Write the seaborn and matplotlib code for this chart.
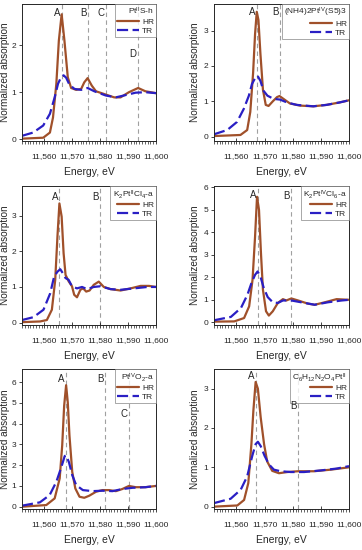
import matplotlib
matplotlib.use("Agg")
import matplotlib.pyplot as plt
import numpy as np
import pandas as pd
import seaborn as sns
from matplotlib.ticker import MultipleLocator, FuncFormatter

# ---- data (energy in eV, normalized absorption) ----
# panel 1: Pt(II)S-h
e1_hr = [11552, 11559.6, 11562, 11563.1, 11564.3, 11565.2, 11566.2, 11567.2, 11568.4,
         11569.6, 11571.4, 11573.2, 11574.3, 11575.5, 11577, 11578.5, 11582, 11585,
         11587.3, 11590.3, 11593.6, 11596.2, 11600]
hr1 = [0.01, 0.03, 0.14, 0.46, 1.18, 2.1, 2.66, 2.1, 1.32, 1.09, 1.05, 1.07, 1.21, 1.3,
       1.14, 1.02, 0.95, 0.89, 0.89, 1.0, 1.09, 1.02, 0.98]
e1_tr = [11552, 11556, 11559.6, 11562, 11563.7, 11564.9, 11566, 11566.9, 11567.8, 11569,
         11570.8, 11573.2, 11575.5, 11577.9, 11582, 11585.6, 11588.5, 11592.7, 11596.2, 11600]
tr1 = [0.07, 0.14, 0.29, 0.54, 0.89, 1.18, 1.32, 1.36, 1.31, 1.16, 1.07, 1.05, 1.09, 1.02,
       0.93, 0.89, 0.93, 0.99, 1.0, 0.98]

# panel 2: (NH4)2Pt(IV)(S5)3
e2_hr = [11552, 11561.4, 11563.8, 11564.9, 11565.9, 11566.6, 11567.2, 11567.8, 11568.5,
         11569.4, 11570.4, 11571.4, 11572.9, 11574.4, 11575.3, 11576.7, 11579, 11582.6,
         11587.3, 11592, 11596.7, 11600]
hr2 = [0.02, 0.05, 0.19, 0.7, 1.8, 2.9, 3.53, 3.3, 2.35, 1.33, 0.9, 0.87, 1.0, 1.12, 1.15,
       1.07, 0.94, 0.88, 0.86, 0.9, 0.97, 1.03]
e2_tr = [11552, 11556.7, 11560.2, 11562.6, 11564.4, 11565.5, 11566.7, 11567.5, 11568.5,
         11569.6, 11571, 11573.2, 11575.5, 11577.9, 11581.4, 11587.3, 11592, 11596.7, 11600]
tr2 = [0.07, 0.19, 0.42, 0.79, 1.16, 1.49, 1.67, 1.72, 1.58, 1.3, 1.16, 1.07, 1.05, 0.97,
       0.9, 0.86, 0.9, 0.97, 1.03]

# panel 3: K2Pt(II)Cl4-a
e3_hr = [11552, 11558.5, 11560.9, 11562.7, 11563.9, 11564.7, 11565.4, 11566.2, 11566.9,
         11567.6, 11568.7, 11569.9, 11570.7, 11571.7, 11572.9, 11573.9, 11575, 11576.2,
         11577.7, 11579.5, 11581.3, 11583.7, 11587.3, 11590.9, 11594.5, 11597.5, 11600]
hr3 = [0.01, 0.03, 0.07, 0.36, 1.2, 2.42, 3.35, 2.98, 1.95, 1.34, 1.16, 1.02, 0.78, 0.71,
       0.92, 0.96, 0.87, 0.9, 1.06, 1.15, 1.0, 0.94, 0.9, 0.96, 1.03, 1.03, 1.0]
e3_tr = [11552, 11556.1, 11559.7, 11562.1, 11563.5, 11564.7, 11565.7, 11566.6, 11567.6,
         11568.7, 11569.9, 11571.7, 11573.5, 11575.3, 11577.7, 11580.1, 11583.7, 11587.3,
         11592.1, 11596.9, 11600]
tr3 = [0.07, 0.15, 0.36, 0.82, 1.29, 1.43, 1.5, 1.39, 1.25, 1.2, 1.02, 0.96, 1.0, 0.94,
       1.0, 1.02, 0.94, 0.92, 0.96, 1.0, 1.0]

# panel 4: K2Pt(IV)Cl6-a
e4_hr = [11552, 11559.2, 11562.7, 11564.5, 11565.7, 11566.6, 11567.3, 11568, 11568.7,
         11569.4, 11570.5, 11571.5, 11572.9, 11574.7, 11576.5, 11577.7, 11579.5, 11581.9,
         11585.4, 11587.8, 11591.4, 11595.6, 11600]
hr4 = [0.03, 0.04, 0.19, 0.71, 1.89, 3.81, 5.58, 5.0, 3.07, 1.45, 0.49, 0.3, 0.49, 0.86,
       1.03, 0.97, 1.06, 0.97, 0.83, 0.78, 0.89, 1.03, 1.0]
e4_tr = [11552, 11558, 11561.6, 11563.9, 11565.3, 11566.6, 11567.5, 11568.5, 11569.7,
         11571.1, 11572.9, 11574.7, 11576.5, 11579.5, 11583, 11587.8, 11592.5, 11597.4, 11600]
tr4 = [0.09, 0.24, 0.64, 1.23, 1.74, 2.11, 2.26, 2.04, 1.52, 1.12, 0.89, 0.86, 0.97, 0.97,
       0.89, 0.78, 0.89, 0.97, 1.0]

# panel 5: Pt(IV)O2-a
e5_hr = [11552, 11560.7, 11563.7, 11565.5, 11566.4, 11567.1, 11567.8, 11568.4, 11569,
         11570, 11571.1, 11572.6, 11574.3, 11576.1, 11578.5, 11580.8, 11583.2, 11585.6,
         11587.9, 11590.3, 11592.7, 11596.2, 11600]
hr5 = [0.0, 0.08, 0.4, 1.36, 2.95, 4.86, 5.85, 5.02, 3.43, 1.67, 0.88, 0.48, 0.43, 0.53,
       0.72, 0.8, 0.8, 0.75, 0.85, 1.0, 0.94, 0.94, 1.0]
e5_tr = [11552, 11558.4, 11561.9, 11564.3, 11566.1, 11567.3, 11567.8, 11568.8, 11570,
         11571.4, 11573.8, 11577.3, 11580.8, 11584.4, 11587.9, 11591.5, 11596.2, 11600]
tr5 = [0.05, 0.21, 0.56, 1.2, 1.91, 2.44, 2.47, 2.15, 1.52, 1.04, 0.8, 0.75, 0.77, 0.75,
       0.85, 0.91, 0.94, 1.0]

# panel 6: C6H12N2O4Pt(II)
e6_hr = [11552, 11560.3, 11562.7, 11564.2, 11565.3, 11566, 11566.8, 11567.6, 11568.6,
         11569.8, 11570.9, 11572.7, 11575.1, 11578.1, 11581.9, 11587.5, 11593.5, 11600]
hr6 = [0.0, 0.03, 0.17, 0.6, 1.59, 2.44, 3.17, 3.0, 2.27, 1.59, 1.15, 0.91, 0.85, 0.88,
       0.9, 0.9, 0.94, 1.0]
e6_tr = [11552, 11557.9, 11561.5, 11563.8, 11565.6, 11566.8, 11567.6, 11568.6, 11570,
         11571.6, 11573.3, 11575.7, 11579.3, 11584, 11589.9, 11595.8, 11600]
tr6 = [0.09, 0.2, 0.43, 0.77, 1.29, 1.59, 1.65, 1.54, 1.29, 1.07, 0.94, 0.9, 0.88, 0.88,
       0.92, 0.97, 1.03]

titles = [r"Pt$^{II}$S-h", r"(NH4)2Pt$^{IV}$(S5)3", r"K$_2$Pt$^{II}$Cl$_4$-a",
          r"K$_2$Pt$^{IV}$Cl$_6$-a", r"Pt$^{IV}$O$_2$-a", r"C$_6$H$_{12}$N$_2$O$_4$Pt$^{II}$"]
# feature labels: (letter, energy of dashed line, height of the letter)
features = [
    [("A", 11566.3, 2.68), ("B", 11575.6, 2.68), ("C", 11582.0, 2.68), ("D", 11593.5, 1.82)],
    [("A", 11567.3, 3.53), ("B", 11575.5, 3.53)],
    [("A", 11565.4, 3.54), ("B", 11579.8, 3.54)],
    [("A", 11567.5, 5.66), ("B", 11579.5, 5.6)],
    [("A", 11567.8, 6.14), ("B", 11581.8, 6.14), ("C", 11590.3, 4.47)],
    [("A", 11566.8, 3.32), ("B", 11581.9, 2.55)],
]
ylims = [(-0.04, 2.88), (-0.12, 3.75), (-0.07, 3.84), (-0.12, 6.06), (-0.11, 6.63), (-0.06, 3.5)]
yticks = [[0, 1, 2], [0, 1, 2, 3], [0, 1, 2, 3], range(0, 7), range(0, 7), [0, 1, 2, 3]]

series = [(e1_hr, hr1, e1_tr, tr1), (e2_hr, hr2, e2_tr, tr2), (e3_hr, hr3, e3_tr, tr3),
          (e4_hr, hr4, e4_tr, tr4), (e5_hr, hr5, e5_tr, tr5), (e6_hr, hr6, e6_tr, tr6)]

sns.set_style("ticks")
plt.rcParams["font.family"] = ["Liberation Sans", "DejaVu Sans"]
plt.rcParams["mathtext.fontset"] = "custom"
plt.rcParams["mathtext.rm"] = "Liberation Sans"
plt.rcParams["mathtext.it"] = "Liberation Sans"

W, H = 362, 550
fig = plt.figure(figsize=(W / 100, H / 100), dpi=100)

# axes boxes in pixels: (x0, x1) per column, (ytop, ybottom) per row
cols = [(22, 156), (214, 349)]
rows = [(4, 141), (186, 325), (369, 509)]
ylabel_right = [10, 200]  # pixel x of the right edge of the y label

HR_COLOR = "#a0502a"
TR_COLOR = "#2a1fc4"

for i, (e_hr, hr, e_tr, tr) in enumerate(series):
    x0, x1 = cols[i % 2]
    yt, yb = rows[i // 2]
    ax = fig.add_axes([x0 / W, 1 - yb / H, (x1 - x0) / W, (yb - yt) / H])

    df = pd.concat([
        pd.DataFrame({"Energy": e_hr, "mu": hr, "kind": "HR"}),
        pd.DataFrame({"Energy": e_tr, "mu": tr, "kind": "TR"}),
    ])
    sns.lineplot(data=df, x="Energy", y="mu", hue="kind", style="kind",
                 palette={"HR": HR_COLOR, "TR": TR_COLOR},
                 dashes={"HR": "", "TR": (5, 2)}, sort=False,
                 linewidth=1.6, ax=ax)

    ymin, ymax = ylims[i]
    for lab, xv, yv in features[i]:
        ax.axvline(xv, color="#a0a0a0", ls=(0, (4, 3)), lw=0.8, zorder=0)
        ax.text(xv - 0.5, yv, lab, ha="right", va="center", fontsize=7, zorder=6)

    ax.set_xlim(11552, 11600)
    ax.set_ylim(ymin, ymax)
    ax.set_yticks(list(yticks[i]))
    ax.xaxis.set_major_locator(MultipleLocator(10))
    ax.xaxis.set_minor_locator(MultipleLocator(1))
    ax.xaxis.set_major_formatter(FuncFormatter(lambda v, p: f"{v:,.0f}"))
    ax.tick_params(axis="y", labelsize=6, length=2.5, width=0.6, pad=1.5)
    ax.tick_params(axis="x", which="major", labelsize=6, length=5, width=0.6,
                   direction="inout", pad=6.5)
    ax.tick_params(axis="x", which="minor", length=2.5, width=0.5, direction="out")
    for sp in ax.spines.values():
        sp.set_linewidth(0.7)
    ax.set_xlabel("Energy, eV", fontsize=7.5, labelpad=5)
    ax.set_ylabel("Normalized absorption", fontsize=7.2)
    ax.yaxis.set_label_coords((ylabel_right[i % 2] - x0) / (x1 - x0), 0.5)

    leg = ax.legend(title=titles[i], loc="upper right", fontsize=6, title_fontsize=6,
                    frameon=True, fancybox=False, edgecolor="#808080",
                    handlelength=2.6, borderpad=0.25, labelspacing=0.1,
                    handletextpad=0.4, borderaxespad=0.0)
    leg.get_frame().set_linewidth(0.6)
    leg._legend_box.align = "right"

fig.savefig("out.png", dpi=100)
